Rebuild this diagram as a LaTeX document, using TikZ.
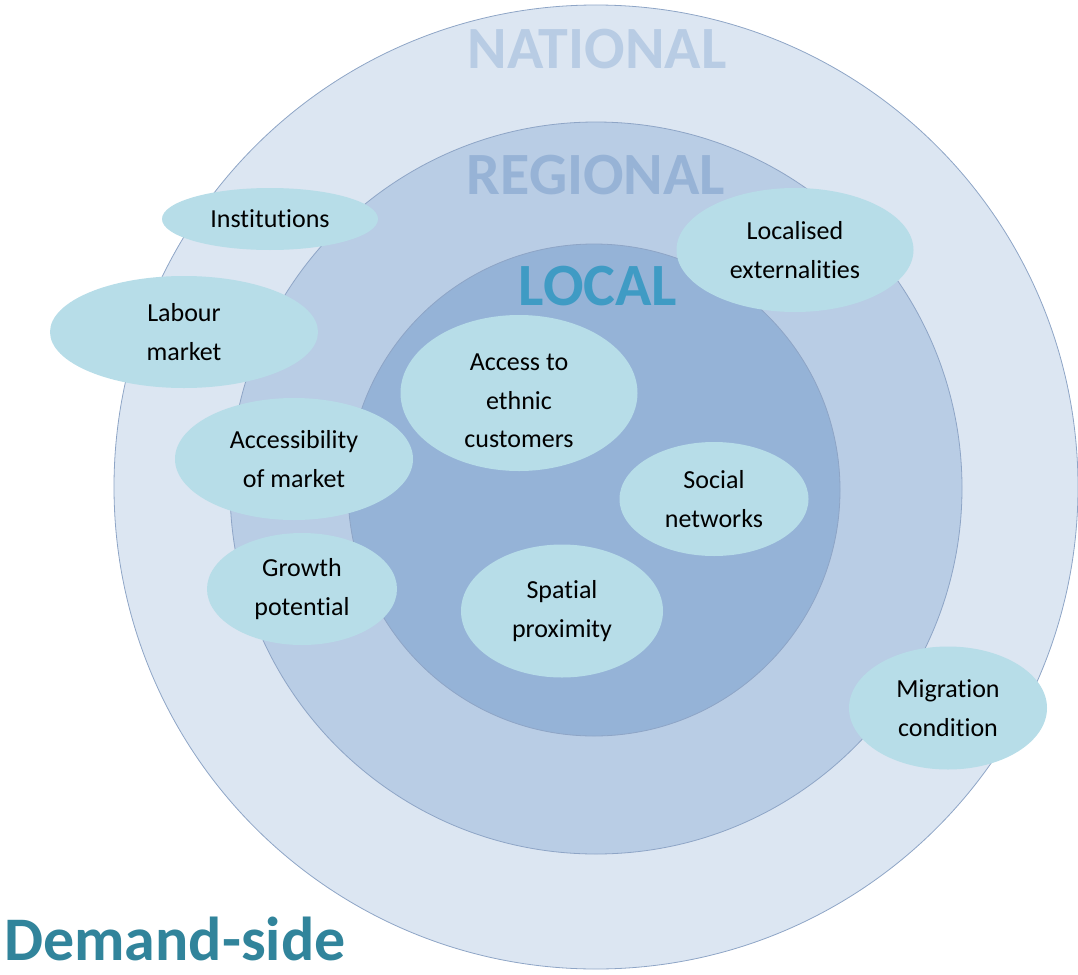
\documentclass[tikz,border=0pt]{standalone}
\usepackage{fontspec}
\setmainfont{Carlito}[Ligatures=NoCommon]
\usetikzlibrary{shapes.geometric}
\definecolor{natfill}{HTML}{DCE6F2}
\definecolor{regfill}{HTML}{B9CDE5}
\definecolor{locfill}{HTML}{95B3D7}
\definecolor{ringline}{HTML}{8EA5C6}
\definecolor{bubble}{HTML}{B7DDE8}
\definecolor{nattext}{HTML}{B8CCE4}
\definecolor{regtext}{HTML}{97B3D6}
\definecolor{loctext}{HTML}{3F9BC4}
\definecolor{demtext}{HTML}{31849B}
\tikzset{
  ring/.style={draw=ringline, line width=0.8pt},
  bubblebox/.style={ellipse, fill=bubble, inner sep=0pt, align=center,
    font=\fontsize{26}{38.5}\selectfont, text=black},
  bubbletext/.style={inner sep=0pt, align=center,
    font=\fontsize{26}{38.5}\selectfont, text=black},
  levellabel/.style={font=\fontsize{60}{60}\selectfont\bfseries, inner sep=0pt}
}
\begin{document}
\begin{tikzpicture}[x=1pt,y=-1pt]
\useasboundingbox (0,0) rectangle (1078,974);
% rings
\draw[ring, fill=natfill] (596,487) circle [radius=482pt];
\draw[ring, fill=regfill] (596,488) circle [radius=366pt];
\draw[ring, fill=locfill] (594,490) circle [radius=246pt];
% level labels
\node[levellabel, text=nattext] (national) at (597,49) {NATIONAL};
\node[levellabel, text=regtext] (regional) at (596,175) {REGIONAL};
\node[levellabel, text=loctext] (local) at (598,286) {LOCAL};
% bubbles
\node[bubblebox, minimum width=216pt, minimum height=62pt] (inst) at (270,219) {Institutions};
\node[bubblebox, minimum width=268pt, minimum height=112pt] (labour) at (184,332) {Labour\\market};
\node[bubblebox, minimum width=238pt, minimum height=122pt] (access) at (294,459) {Accessibility\\of market};
\node[bubblebox, minimum width=190pt, minimum height=112pt] (growth) at (302,589) {Growth\\potential};
\node[bubblebox, minimum width=237pt, minimum height=156pt] (ethnic) at (519,393) {};
\node[bubbletext] (ethnictext) at (519,401) {Access to\\ethnic\\customers};
\node[bubblebox, minimum width=189pt, minimum height=114pt] (social) at (714,499) {Social\\networks};
\node[bubblebox, minimum width=202pt, minimum height=133pt] (spatial) at (562,611) {Spatial\\proximity};
\node[bubblebox, minimum width=237pt, minimum height=124pt] (extern) at (795,250) {Localised\\externalities};
\node[bubblebox, minimum width=198pt, minimum height=123pt] (migr) at (948,708) {Migration\\condition};
% title
\node[font=\fontsize{62}{62}\selectfont\bfseries, text=demtext, anchor=base west, inner sep=0pt] (demand) at (4,960) {Demand-side};
\end{tikzpicture}
\end{document}
